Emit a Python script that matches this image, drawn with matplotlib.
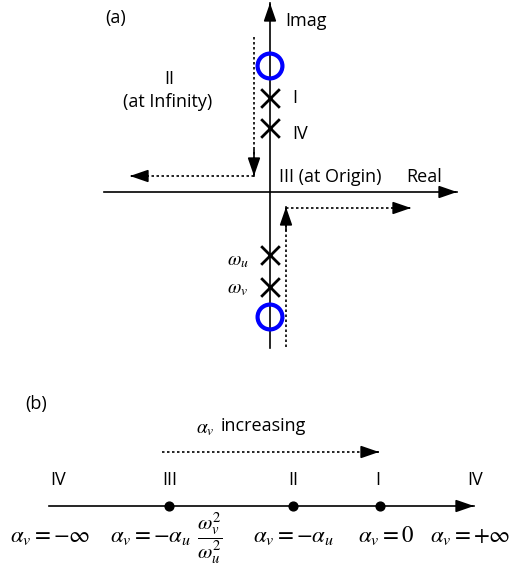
import matplotlib.pyplot as plt

plt.rcParams['font.family'] = ['Open Sans', 'DejaVu Sans']
plt.rcParams['mathtext.fontset'] = 'stix'

# (a) pole-zero sketch, positions in picture units (y grows downward)
axis_x = 270
axis_y = 192
zeros_y = [66, 317]
poles_y = [98, 128, 255, 287]
pole_labels = ['I', 'IV', r'$\omega_u$', r'$\omega_v$']
pole_label_y = [98, 134, 261, 289]

# (b) number line
line_y = 506
points_x = [169, 293, 380]
region_labels = ['IV', 'III', 'II', 'I', 'IV']
region_x = [58, 170, 293, 378, 475]
value_labels = [r'$\alpha_v=-\infty$', r'$\alpha_v=-\alpha_u$',
                r'$\alpha_v=-\alpha_u$', r'$\alpha_v=0$', r'$\alpha_v=+\infty$']
value_x = [50, 150, 293, 386, 470]
ratio_label = r'$\dfrac{\omega_v^2}{\omega_u^2}$'

fig = plt.figure(figsize=(5.16, 5.69), dpi=100)
ax = fig.add_axes([0, 0, 1, 1])
ax.set_xlim(0, 516)
ax.set_ylim(569, 0)
ax.axis('off')

head = dict(arrowstyle='-|>,head_length=1.1,head_width=0.38', color='black', lw=1.2,
            shrinkA=0, shrinkB=0)
dots = (0, (1.5, 1.5))


def arrow(x0, y0, x1, y1, dotted=False):
    # shaft drawn separately so the head stays solid
    ax.plot([x0, x1], [y0, y1], color='black', lw=1.2, ls=dots if dotted else '-')
    dx, dy = x1 - x0, y1 - y0
    n = (dx ** 2 + dy ** 2) ** 0.5
    ax.annotate('', xy=(x1, y1), xytext=(x1 - dx / n * 2, y1 - dy / n * 2), arrowprops=head)


# axes
arrow(axis_x, 348, axis_x, 3)
arrow(104, axis_y, 457, axis_y)
# dotted paths
ax.plot([254, 254], [37, 160], color='black', lw=1.2, ls=dots)
arrow(254, 150, 254, 176)
arrow(254, 176, 130, 176, dotted=True)
ax.plot([286, 286], [347, 225], color='black', lw=1.2, ls=dots)
arrow(286, 230, 286, 207)
arrow(286, 208, 411, 208, dotted=True)

ax.scatter([axis_x] * len(zeros_y), zeros_y, s=320, facecolors='none', edgecolors='#0000ff',
           linewidths=3, zorder=3)
ax.scatter([axis_x] * len(poles_y), poles_y, s=180, marker='x', color='black', linewidths=2,
           zorder=3)
for y, lab in zip(pole_label_y, pole_labels):
    if lab.startswith('$'):
        ax.text(238, y, lab, fontsize=14, ha='center', va='center')
    else:
        ax.text(292, y, lab, fontsize=13, ha='left', va='center')

ax.text(105, 18, '(a)', fontsize=13, ha='left', va='center')
ax.text(285, 21, 'Imag', fontsize=13, ha='left', va='center')
ax.text(169, 79, 'II', fontsize=13, ha='center', va='center')
ax.text(168, 102, '(at Infinity)', fontsize=13, ha='center', va='center')
ax.text(279, 177, 'III (at Origin)', fontsize=13, ha='left', va='center')
ax.text(406, 177, 'Real', fontsize=13, ha='left', va='center')

# (b)
ax.text(25, 404, '(b)', fontsize=13, ha='left', va='center')
ax.text(196, 429, r'$\alpha_v$', fontsize=14, ha='left', va='center')
ax.text(221, 426, 'increasing', fontsize=13, ha='left', va='center')
arrow(162, 452, 379, 452, dotted=True)
arrow(49, line_y, 474, line_y)
ax.scatter(points_x, [line_y] * len(points_x), s=40, color='black', zorder=3)
for x, lab in zip(region_x, region_labels):
    ax.text(x, 480, lab, fontsize=13, ha='center', va='center')
for x, lab in zip(value_x, value_labels):
    ax.text(x, 536, lab, fontsize=16.5, ha='center', va='center')
ax.text(210, 538, ratio_label, fontsize=15, ha='center', va='center')

fig.savefig('out.png', dpi=100)
